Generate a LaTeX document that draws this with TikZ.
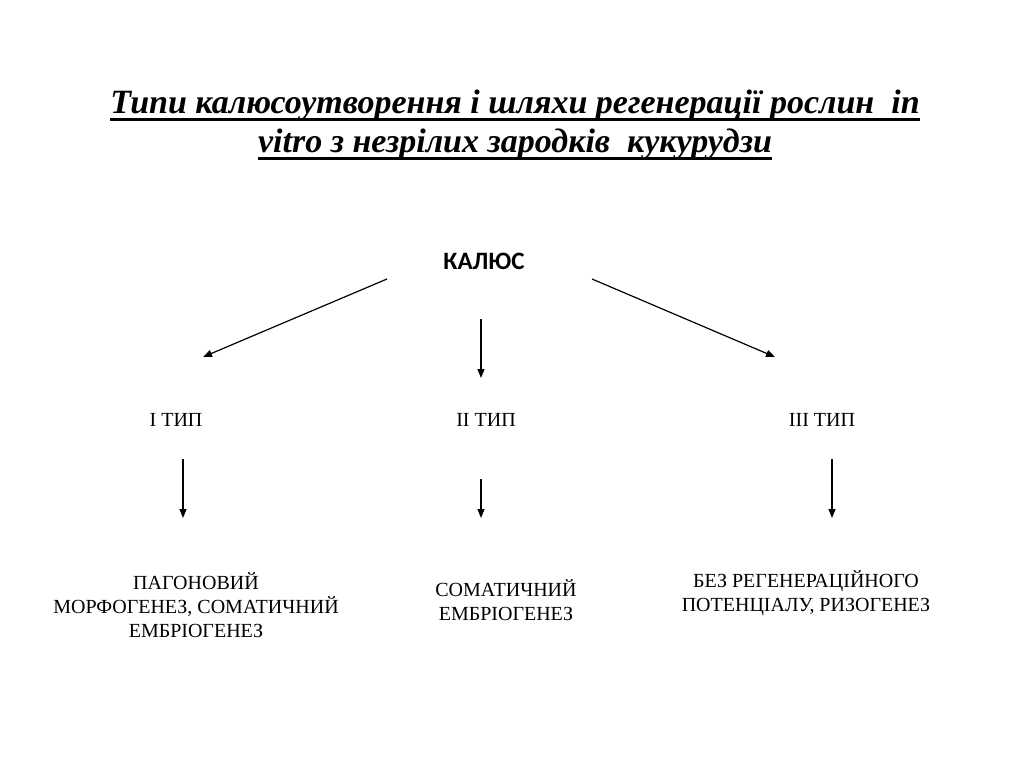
\documentclass[tikz,border=0pt]{standalone}
\usepackage{fontspec}
\setmainfont{Liberation Serif}
\newfontfamily\calibri{Carlito}
\usetikzlibrary{arrows.meta,positioning}

\begin{document}
\begin{tikzpicture}[x=1pt,y=-1pt,
  tline/.style={inner sep=0pt,anchor=base,font=\fontsize{34}{40}\selectfont\bfseries\itshape},
  lbl/.style={inner sep=0pt,align=center,font=\fontsize{20}{24}\selectfont},
  arr/.style={-{Triangle[length=9pt,width=7pt]},line width=1.2pt}]
  \useasboundingbox (0,0) rectangle (1024,768);
  % title
  \node[tline] (t1) at (515,113) {Типи калюсоутворення і шляхи регенерації рослин\ \ in};
  \node[tline] (t2) at (515,152) {vitro з незрілих зародків\ \ кукурудзи};
  \draw[line width=3pt] ([yshift=-6pt]t1.base west) -- ([yshift=-6pt]t1.base east);
  \draw[line width=3pt] ([yshift=-6pt]t2.base west) -- ([yshift=-6pt]t2.base east);
  % root
  \node[inner sep=0pt,font=\calibri\bfseries\fontsize{25}{30}\selectfont] (kal) at (484,261) {КАЛЮС};
  % types
  \node[lbl] (typ1) at (176,420) {І ТИП};
  \node[lbl] (typ2) at (486,420) {ІІ ТИП};
  \node[lbl] (typ3) at (822,420) {ІІІ ТИП};
  % results
  \node[lbl] (res1) at (196,605) {ПАГОНОВИЙ\\МОРФОГЕНЕЗ, СОМАТИЧНИЙ\\ЕМБРІОГЕНЕЗ};
  \node[lbl] (res2) at (506,600) {СОМАТИЧНИЙ\\ЕМБРІОГЕНЕЗ};
  \node[lbl] (res3) at (806,593) {БЕЗ РЕГЕНЕРАЦІЙНОГО\\ПОТЕНЦІАЛУ, РИЗОГЕНЕЗ};
  % arrow ends
  \coordinate (a1s) at (387,279);  \coordinate (a1e) at (203,357);
  \coordinate (a2s) at (481,319);  \coordinate (a2e) at (481,378);
  \coordinate (a3s) at (592,279);  \coordinate (a3e) at (775,357);
  \coordinate (b1s) at (183,459);  \coordinate (b1e) at (183,518);
  \coordinate (b2s) at (481,479);  \coordinate (b2e) at (481,518);
  \coordinate (b3s) at (832,459);  \coordinate (b3e) at (832,518);
  \foreach \s/\e in {a1s/a1e,a2s/a2e,a3s/a3e,b1s/b1e,b2s/b2e,b3s/b3e}
    \draw[arr] (\s) -- (\e);
\end{tikzpicture}
\end{document}
